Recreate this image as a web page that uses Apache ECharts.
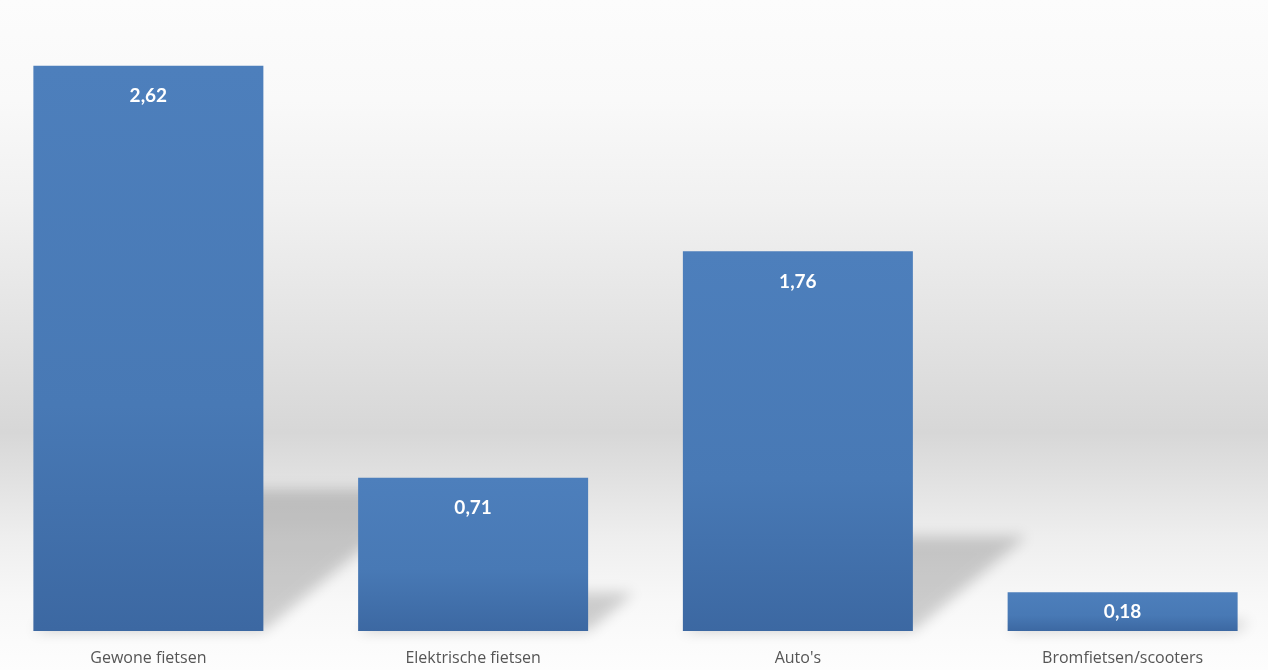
<!DOCTYPE html>
<html>
<head>
<meta charset="utf-8">
<script src="https://cdn.jsdelivr.net/npm/echarts@6/dist/echarts.min.js"></script>
<style>
html,body{margin:0;padding:0;overflow:hidden;}
#wrap{position:relative;width:1268px;height:670px;overflow:hidden;background:linear-gradient(to bottom,#fcfcfc 0%,#f9f9f9 15%,#f1f1f1 30%,#e6e6e6 45%,#dcdcdc 58%,#d7d7d7 64.5%,#dfdfdf 70%,#eeeeee 80%,#f8f8f8 90%,#fdfdfd 100%);}
#c{position:absolute;left:-14px;top:0;width:1299px;height:670px;}
</style>
</head>
<body>
<div id="wrap"><div id="c"></div></div>
<script>
const categories = ["Gewone fietsen", "Elektrische fietsen", "Auto's", "Bromfietsen/scooters"];
const values = [2.62, 0.71, 1.76, 0.18];

const chart = echarts.init(document.getElementById('c'), null, {renderer: 'canvas'});

const barColor = {
  type: 'linear', x: 0, y: 0, x2: 0, y2: 1,
  colorStops: [
    {offset: 0, color: '#4d7fbc'},
    {offset: 0.6, color: '#4879b5'},
    {offset: 1, color: '#3c68a2'}
  ]
};

const OFF = 3000;

chart.setOption({
  backgroundColor: 'transparent',
  animation: false,
  grid: {left: 0, right: 0, top: 27, bottom: 39},
  xAxis: {
    type: 'category',
    data: categories,
    axisLine: {show: false},
    axisTick: {show: false},
    axisLabel: {
      color: '#555555',
      fontSize: 16,
      fontFamily: 'Open Sans',
      margin: 19
    }
  },
  yAxis: {
    type: 'value',
    min: 0,
    max: 2.8,
    show: false,
    splitLine: {show: false}
  },
  series: [
    {
      type: 'custom',
      z: 1,
      silent: true,
      clip: false,
      data: values.map((v, i) => [i, v]),
      renderItem: function (params, api) {
        const base = api.coord([api.value(0), 0]);
        const top = api.coord([api.value(0), api.value(1)]);
        const w = 230;
        const h = base[1] - top[1];
        const x0 = base[0] - w / 2 - OFF;
        const x1 = base[0] + w / 2 - OFF;
        const y0 = base[1];
        const dx = 0.3 * h, dy = 0.25 * h;
        return {
          type: 'polygon',
          shape: {points: [[x0, y0], [x1, y0], [x1 + dx, y0 - dy], [x0 + dx, y0 - dy]]},
          style: {
            fill: '#000',
            shadowBlur: 14,
            shadowOffsetX: OFF,
            shadowOffsetY: 0,
            shadowColor: 'rgba(0,0,0,0.18)'
          }
        };
      }
    },
    {
      type: 'bar',
      z: 2,
      data: values.map(v => v < 0.3 ? {value: v, label: {position: 'inside'}} : v),
      barWidth: 230,
      itemStyle: {color: barColor},
      label: {
        show: true,
        position: 'insideTop',
        distance: 21,
        color: '#ffffff',
        fontSize: 19,
        fontWeight: 'bold',
        fontFamily: 'Lato',
        formatter: p => p.value.toFixed(2).replace('.', ',')
      }
    }
  ]
});
</script>
</body>
</html>
